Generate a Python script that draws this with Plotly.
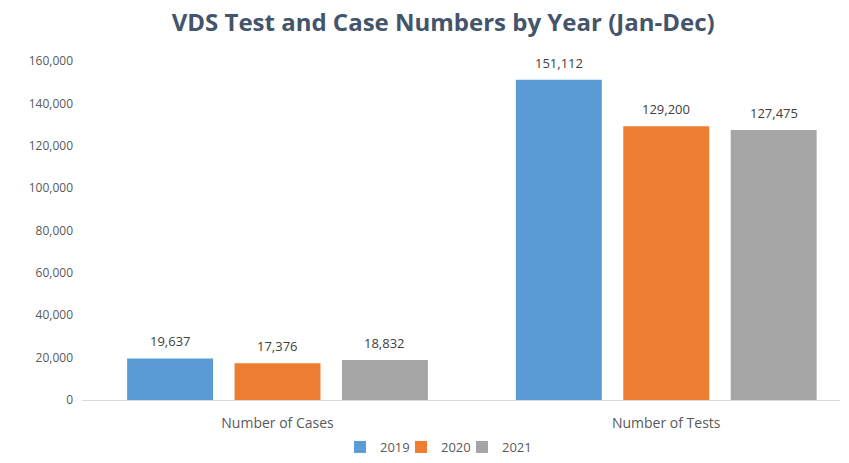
import plotly.graph_objects as go

categories = ["Number of Cases", "Number of Tests"]
years = ["2019", "2020", "2021"]
values_2019 = [19637, 151112]
values_2020 = [17376, 129200]
values_2021 = [18832, 127475]
tick_vals = [0, 20000, 40000, 60000, 80000, 100000, 120000, 140000, 160000]

series = [values_2019, values_2020, values_2021]
colors = ["#5B9BD5", "#ED7D31", "#A5A5A5"]

BARGAP = 0.171
X_RANGE = [-0.503, 1.447]
MARGIN_L, MARGIN_R = 82, 9
PLOT_W = 849 - MARGIN_L - MARGIN_R
cat_px = PLOT_W / (X_RANGE[1] - X_RANGE[0])
slot_px = cat_px * (1 - BARGAP) / len(series)

legend_names = ["legend", "legend2", "legend3"]
legend_square_px = [360, 421, 482]

fig = go.Figure()
annotations = []
for i, (yr, vals, col) in enumerate(zip(years, series, colors)):
    fig.add_trace(go.Bar(
        name=yr, x=categories, y=vals,
        marker=dict(color=col, line=dict(width=0)),
        legend=legend_names[i],
    ))
    for cat, v in zip(categories, vals):
        annotations.append(dict(
            x=cat, y=v, xref="x", yref="y", text=f"{v:,}", showarrow=False,
            xanchor="center", yanchor="bottom", xshift=(i - 1) * slot_px, yshift=6,
            font=dict(family="Open Sans", size=13, color="#404040"),
        ))

legend_style = dict(orientation="h", xref="container", yref="container",
                    xanchor="left", yanchor="middle", y=1 - 447 / 463,
                    font=dict(size=13, color="#595959"), itemwidth=30,
                    bgcolor="rgba(0,0,0,0)")
legends = {}
for name, px in zip(legend_names, legend_square_px):
    legends[name] = dict(legend_style, x=(px - 20) / 849)

fig.update_layout(
    width=849, height=463,
    margin=dict(l=MARGIN_L, r=MARGIN_R, t=61, b=63, autoexpand=False),
    paper_bgcolor="white", plot_bgcolor="white",
    barmode="group", bargap=BARGAP, bargroupgap=0.2,
    annotations=annotations,
    title=dict(text="<b>VDS Test and Case Numbers by Year (Jan-Dec)</b>",
               x=0.522, xanchor="center", y=0.952, yanchor="middle",
               font=dict(family="Open Sans", size=24, color="#44546A")),
    font=dict(family="Open Sans", size=12, color="#595959"),
    showlegend=True,
    xaxis=dict(range=X_RANGE, showline=True, linecolor="#D9D9D9", linewidth=1,
               showgrid=False, ticks="", ticklabelstandoff=10,
               tickfont=dict(size=14, color="#595959")),
    yaxis=dict(range=[0, 160000], tickvals=tick_vals, tickformat=",", showgrid=False,
               zeroline=False, showline=False, ticks="", ticklabelstandoff=8,
               tickfont=dict(size=12, color="#595959")),
    **legends,
)

fig.write_html("out.html")
